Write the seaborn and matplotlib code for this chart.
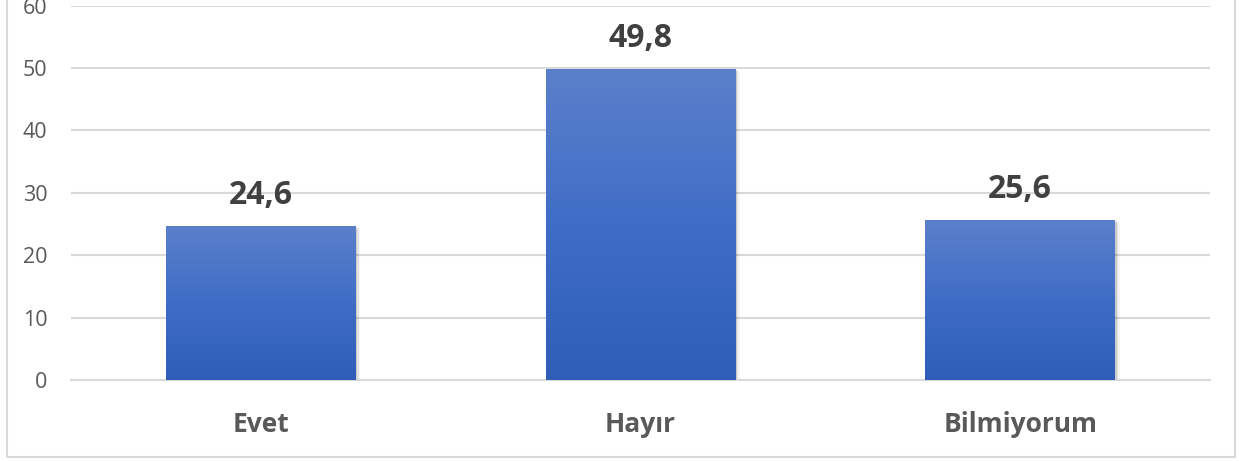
import numpy as np
import matplotlib
matplotlib.use("Agg")
import matplotlib.pyplot as plt
import seaborn as sns
from matplotlib.colors import LinearSegmentedColormap
from matplotlib.patches import Rectangle

categories = ["Evet", "Hayır", "Bilmiyorum"]
values = [24.6, 49.8, 25.6]
value_labels = ["24,6", "49,8", "25,6"]
yticks = [0, 10, 20, 30, 40, 50, 60]

sns.set_theme(style="white")
plt.rcParams['font.family'] = ['Open Sans', 'DejaVu Sans']

fig = plt.figure(figsize=(12.39, 4.61), dpi=100)
ax = fig.add_axes([71/1239, 1-380/461, (1210-71)/1239, (380-5.6)/461])

sns.barplot(x=categories, y=values, color="#4472C4", width=0.5, ax=ax, zorder=3)

cmap = LinearSegmentedColormap.from_list("g", ["#2E5EB8", "#3F6DC6", "#5B80CB"])
grad = np.linspace(0, 1, 256).reshape(-1, 1)
for p in ax.patches:
    x0, y0 = p.get_x(), p.get_y()
    w, h = p.get_width(), p.get_height()
    # shadow
    for i, a in enumerate([0.10, 0.07, 0.04]):
        dx = 0.004 * (i + 1)
        dy = 0.12 * (i + 1)
        ax.add_patch(Rectangle((x0 + dx, y0 - dy), w, h, facecolor="black",
                               alpha=a, edgecolor="none", zorder=2))
    p.set_facecolor("none")
    p.set_edgecolor("none")
    im = ax.imshow(grad, extent=[x0, x0 + w, y0, y0 + h], origin="lower",
                   cmap=cmap, aspect="auto", zorder=3)
    im.set_clip_path(p)

for i, (v, lab) in enumerate(zip(values, value_labels)):
    ax.annotate(lab, (i, v), xytext=(0, 16), textcoords="offset points",
                ha="center", va="baseline", fontsize=23, fontweight="bold",
                color="#404040")

ax.set_xlim(-0.5, 2.5)
ax.set_ylim(0, 60)
ax.set_yticks(yticks)
ax.yaxis.grid(True, color="#D9D9D9", linewidth=1.5, zorder=0)
ax.set_axisbelow(True)
for s in ["top", "right", "left"]:
    ax.spines[s].set_visible(False)
ax.spines["bottom"].set_color("#D9D9D9")
ax.spines["bottom"].set_linewidth(1.5)
ax.tick_params(axis="y", length=0, pad=17, labelsize=15.5, labelcolor="#595959")
ax.tick_params(axis="x", length=0, pad=22, labelsize=19, labelcolor="#595959")
for t in ax.get_xticklabels():
    t.set_fontweight("bold")
ax.set_xlabel("")
ax.set_ylabel("")

fig.patches.append(Rectangle((7/1239, 1-457/461), (1235-7)/1239, 1.2,
                             transform=fig.transFigure, fill=False,
                             edgecolor="#D9D9D9", linewidth=1.5, zorder=0))

fig.savefig("out.png", dpi=100)
